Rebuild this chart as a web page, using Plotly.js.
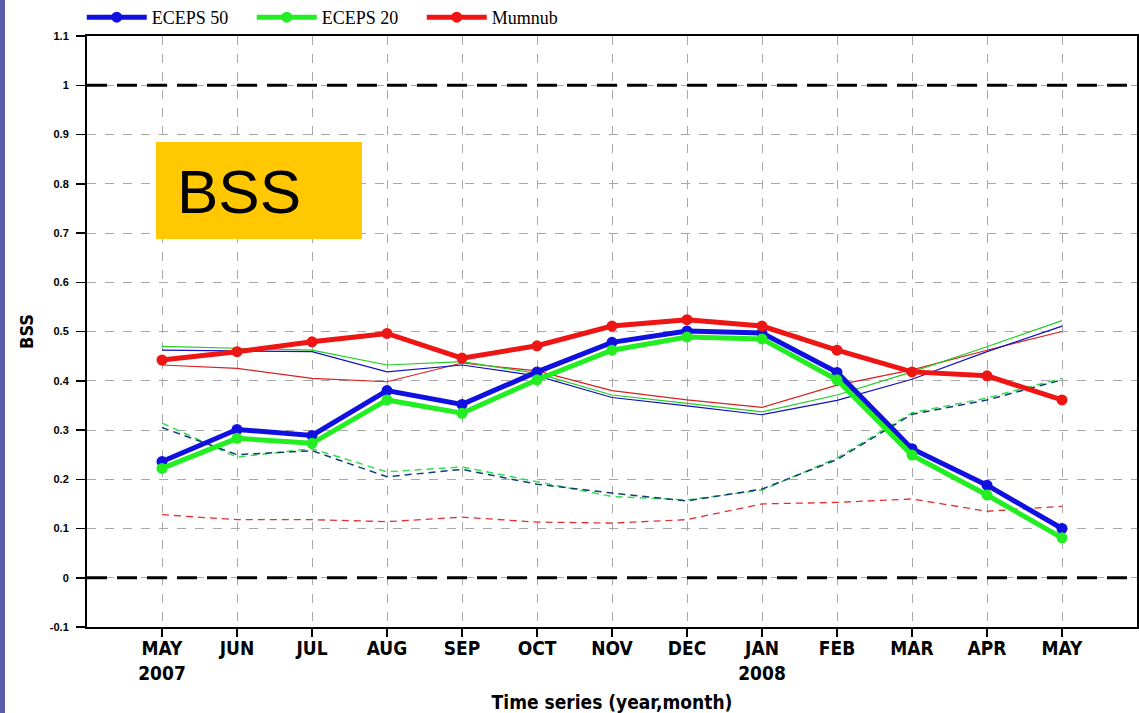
<!DOCTYPE html>
<html>
<head>
<meta charset="utf-8">
<script src="https://cdn.plot.ly/plotly-3.0.1.min.js"></script>
<style>
  html, body { margin: 0; padding: 0; background: #fff; }
  #chart { width: 1139px; height: 713px; }
  #edge { position: absolute; left: 0; top: 0; width: 5px; height: 713px; background: #5a5ea8; z-index: 10; }
</style>
</head>
<body>
<div id="edge"></div>
<div id="chart"></div>
<script>
// Month index 0..12 : May 2007 .. May 2008
var months = [0,1,2,3,4,5,6,7,8,9,10,11,12];
var tickLabels = ["MAY<br>2007","JUN","JUL","AUG","SEP","OCT","NOV","DEC","JAN<br>2008","FEB","MAR","APR","MAY"];
var yTickVals = [-0.1,0,0.1,0.2,0.3,0.4,0.5,0.6,0.7,0.8,0.9,1,1.1];
var yTickText = ["-0.1","0","0.1","0.2","0.3","0.4","0.5","0.6","0.7","0.8","0.9","1","1.1"];

// Thick lines (BSS)
var eceps50 = [0.236,0.301,0.289,0.380,0.352,0.418,0.478,0.501,0.497,0.417,0.262,0.188,0.100];
var eceps20 = [0.222,0.283,0.273,0.361,0.334,0.402,0.462,0.489,0.485,0.402,0.249,0.168,0.081];
var mumnub  = [0.442,0.459,0.479,0.496,0.446,0.471,0.511,0.524,0.511,0.462,0.418,0.410,0.361];

// Thin solid lines
var eceps50Thin = [0.462,0.461,0.459,0.418,0.432,0.410,0.366,0.349,0.331,0.360,0.403,0.459,0.511];
var eceps20Thin = [0.470,0.466,0.462,0.432,0.439,0.415,0.371,0.354,0.337,0.371,0.418,0.469,0.522];
var mumnubThin  = [0.432,0.425,0.405,0.398,0.436,0.420,0.380,0.361,0.346,0.391,0.422,0.462,0.500];

// Thin dashed lines
var eceps50Dash = [0.305,0.250,0.258,0.205,0.220,0.190,0.172,0.156,0.180,0.240,0.332,0.361,0.402];
var eceps20Dash = [0.314,0.245,0.262,0.215,0.225,0.195,0.165,0.158,0.178,0.243,0.335,0.365,0.405];
var mumnubDash  = [0.128,0.118,0.118,0.114,0.123,0.113,0.111,0.118,0.150,0.153,0.160,0.135,0.145];

var BLUE = "#1010e0", GREEN = "#22ee22", RED = "#ee1515";

function thin(y, c, dash, w) {
  return {x: months, y: y, type: "scatter", mode: "lines", showlegend: false, hoverinfo: "skip",
          line: {color: c, width: w, dash: dash}};
}
function thick(y, c, name) {
  return {x: months, y: y, type: "scatter", mode: "lines+markers", name: name,
          line: {color: c, width: 5}, marker: {color: c, size: 11, symbol: "circle"}};
}

var data = [
  thin(mumnubDash, "#e23030", "7px,5px", 1.3),
  thin(eceps20Dash, "#33dd55", "7px,5px", 1.5),
  thin(eceps50Dash, "#104070", "7px,5px", 1.5),
  thin(mumnubThin, "#d82020", "solid", 1.2),
  thin(eceps20Thin, "#22cc22", "solid", 1.2),
  thin(eceps50Thin, "#1010c0", "solid", 1.2),
  thick(eceps50, BLUE, "ECEPS 50"),
  thick(eceps20, GREEN, "ECEPS 20"),
  thick(mumnub, RED, "Mumnub")
];

var boldSans = "Liberation Sans, Arial, sans-serif";
var narrow = "DejaVu Sans Condensed, Liberation Sans Narrow, Arial Narrow, sans-serif";

var layout = {
  width: 1139, height: 713,
  margin: {l: 87, r: 2, t: 36, b: 86, autoexpand: false},
  paper_bgcolor: "#ffffff", plot_bgcolor: "#ffffff",
  showlegend: true,
  legend: {orientation: "h", x: -0.005, xanchor: "left", y: 1.0, yanchor: "bottom",
           font: {family: "Liberation Serif, Times New Roman, serif", size: 18, color: "#000"},
           entrywidth: 95, entrywidthmode: "pixels", itemwidth: 60,
           bgcolor: "rgba(0,0,0,0)", tracegroupgap: 0},
  xaxis: {
    range: [-1, 13], tickmode: "array", tickvals: months, ticktext: tickLabels,
    tickfont: {family: narrow, size: 19, color: "#000", weight: "bold"},
    ticks: "outside", ticklen: 8, tickwidth: 1.5, tickcolor: "#000", ticklabelstandoff: -5,
    showline: true, linecolor: "#000", linewidth: 2, mirror: true,
    showgrid: true, gridcolor: "#a8a8a8", griddash: "dash", gridwidth: 1,
    zeroline: false, fixedrange: true,
    title: {text: "Time series (year,month)", font: {family: narrow, size: 19, color: "#000", weight: "bold"}, standoff: 13}
  },
  yaxis: {
    range: [-0.1, 1.1], tickmode: "array", tickvals: yTickVals, ticktext: yTickText,
    tickfont: {family: boldSans, size: 11, color: "#000", weight: "bold"},
    ticks: "outside", ticklen: 9, tickwidth: 1.5, tickcolor: "#000", ticklabelstandoff: 5,
    showline: true, linecolor: "#000", linewidth: 2, mirror: true,
    showgrid: true, gridcolor: "#a8a8a8", griddash: "dash", gridwidth: 1,
    zeroline: false, fixedrange: true,
    title: {text: "BSS", font: {family: narrow, size: 18, color: "#000", weight: "bold"}, standoff: 12}
  },
  shapes: [
    {type: "line", xref: "paper", yref: "y", x0: 0, x1: 1, y0: 1, y1: 1, line: {color: "#000", width: 3, dash: "20px,10px"}},
    {type: "line", xref: "paper", yref: "y", x0: 0, x1: 1, y0: 0, y1: 0, line: {color: "#000", width: 3, dash: "20px,10px"}},
    {type: "rect", xref: "paper", yref: "paper", x0: 0.0657, x1: 0.2619, y0: 0.6565, y1: 0.8206,
     fillcolor: "#ffc800", line: {width: 0}, layer: "above"}
  ],
  annotations: [
    {xref: "paper", yref: "paper", x: 0.0837, y: 0.737, xanchor: "left", yanchor: "middle", showarrow: false,
     text: "BSS", font: {family: "Liberation Sans, Arial, sans-serif", size: 62, color: "#000"}}
  ]
};

Plotly.newPlot("chart", data, layout, {displayModeBar: false, staticPlot: true});
</script>
</body>
</html>
